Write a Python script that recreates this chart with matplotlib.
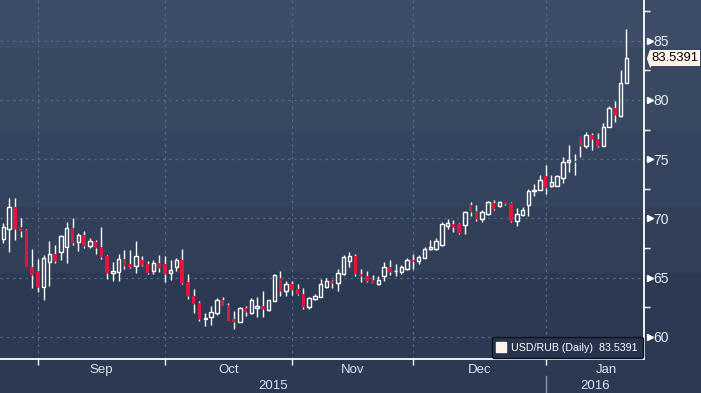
import matplotlib.pyplot as plt
import matplotlib.transforms as mtransforms
from matplotlib.lines import Line2D
from matplotlib.patches import Rectangle
import numpy as np
import pandas as pd

# daily USD/RUB candles, first session 24 Aug 2015
start_day = '2015-08-24'
opens = [68.22, 69.07, 70.93, 69.24, 69.0, 65.85, 65.54, 64.21, 66.33, 67.03,
         67.18, 67.54, 69.21, 68.02, 68.59, 67.68, 68.02, 67.54, 66.8, 65.4,
         65.48, 66.53, 66.18, 65.98, 66.46, 66.12, 65.56, 66.26, 66.12, 65.39,
         65.9, 66.46, 64.63, 63.43, 62.87, 61.46, 61.63, 62.02, 63.09, 62.67,
         61.46, 61.26, 62.39, 61.97, 62.44, 62.58, 62.3, 63.03, 65.0, 63.85,
         64.44, 63.99, 63.65, 62.52, 63.17, 63.37, 64.21, 64.72, 64.58, 65.28,
         66.41, 66.8, 65.34, 65.11, 64.77, 64.44, 65.11, 65.85, 65.51, 65.48,
         65.76, 66.46, 66.41, 66.66, 67.37, 67.39, 67.73, 69.33, 69.55, 69.55,
         69.47, 71.1, 70.59, 69.94, 70.37, 71.29, 71.01, 71.35, 71.29, 69.75,
         70.31, 71.15, 72.28, 72.36, 73.54, 72.7, 72.75, 73.4, 74.72, 74.86,
         76.85, 76.12, 77.05, 76.71, 76.07, 77.75, 79.3, 78.65, 81.4]
highs = [69.58, 71.69, 71.69, 70.0, 69.07, 67.37, 66.6, 66.89, 68.08, 67.74,
         68.59, 69.72, 70.0, 68.79, 68.93, 68.3, 68.16, 69.3, 66.9, 66.33,
         67.03, 67.3, 67.3, 68.06, 66.8, 66.38, 66.46, 66.88, 66.8, 66.46,
         66.69, 67.39, 65.28, 63.99, 63.0, 61.97, 62.58, 63.29, 63.37, 62.87,
         62.16, 62.53, 62.58, 63.23, 63.37, 63.87, 63.14, 65.28, 65.56, 64.69,
         64.69, 64.44, 64.13, 63.37, 63.65, 64.86, 64.92, 64.77, 65.68, 66.89,
         67.17, 66.97, 65.76, 65.54, 65.2, 65.11, 66.32, 66.46, 66.13, 66.04,
         66.61, 66.97, 66.89, 67.59, 68.21, 68.3, 69.7, 69.94, 69.89, 69.61,
         70.59, 71.35, 71.15, 70.73, 71.49, 71.57, 71.49, 71.4, 71.35, 70.87,
         70.93, 72.5, 72.92, 73.68, 74.47, 73.68, 73.62, 75.17, 76.21, 75.45,
         76.91, 77.28, 77.19, 77.19, 78.03, 79.49, 79.94, 82.53, 85.96]
lows = [67.94, 67.18, 68.16, 68.45, 65.85, 64.12, 63.79, 63.08, 64.27, 66.24,
        66.47, 66.24, 67.74, 67.23, 67.46, 67.46, 67.03, 66.6, 64.9, 64.72,
        64.72, 65.68, 65.84, 65.39, 65.96, 65.34, 65.34, 65.48, 64.63, 64.78,
        65.56, 64.49, 63.17, 61.97, 61.35, 60.9, 60.98, 61.83, 62.58, 61.35,
        60.65, 61.26, 61.74, 61.91, 61.68, 61.68, 62.18, 63.03, 63.42, 63.42,
        63.5, 63.5, 62.38, 62.38, 63.08, 63.37, 64.15, 64.15, 63.87, 65.2,
        65.9, 65.11, 64.63, 64.63, 64.49, 64.35, 64.72, 65.2, 65.11, 65.34,
        65.62, 65.76, 66.13, 66.61, 67.31, 67.31, 67.68, 69.13, 68.82, 68.71,
        68.71, 70.17, 69.75, 69.66, 70.31, 70.67, 70.96, 71.15, 69.69, 69.33,
        70.17, 70.17, 71.85, 72.36, 72.08, 72.64, 72.7, 72.98, 73.88, 73.65,
        75.14, 75.9, 75.79, 76.01, 76.07, 77.75, 78.17, 78.6, 81.4]
closes = [69.24, 70.93, 69.07, 68.95, 65.9, 65.2, 64.21, 66.67, 66.95, 66.38,
          68.5, 69.15, 67.88, 68.59, 67.66, 68.08, 67.46, 66.75, 65.4, 65.54,
          66.53, 65.96, 65.9, 66.8, 66.04, 65.39, 66.26, 65.84, 65.28, 65.67,
          66.46, 64.55, 63.46, 62.75, 61.46, 61.6, 62.1, 63.09, 62.61, 61.35,
          61.26, 62.39, 62.1, 63.09, 62.61, 62.35, 63.08, 65.2, 63.85, 64.44,
          63.93, 63.59, 62.52, 63.28, 63.42, 64.49, 64.69, 64.58, 65.42, 66.75,
          66.8, 65.34, 65.14, 64.69, 64.49, 64.77, 65.85, 65.45, 65.56, 65.85,
          66.46, 66.41, 66.75, 67.39, 67.59, 68.07, 69.5, 69.61, 69.27, 68.76,
          70.51, 70.51, 69.97, 70.51, 71.38, 70.79, 71.35, 71.24, 69.75, 70.37,
          70.73, 72.33, 72.42, 73.26, 72.56, 73.03, 73.54, 74.8, 74.89, 74.72,
          76.12, 77.05, 76.69, 76.07, 77.75, 79.3, 78.74, 81.4, 83.5391]
y_ticks = [60, 65, 70, 75, 80, 85]
series_name = 'USD/RUB (Daily)'

plt.rcParams['font.family'] = ['Liberation Sans', 'DejaVu Sans']

W, H = 701, 393
fig = plt.figure(figsize=(W / 100, H / 100), dpi=100)
fig.patch.set_facecolor('#2c3953')

# Bloomberg-ish banded background, top to bottom in pixels
bands = [(0, 48, '#3e4d67'), (48, 130, '#394861'), (130, 207, '#35445e'),
         (207, 273, '#313f59'), (273, H, '#2c3953')]
for top, bot, col in bands:
    fig.add_artist(Rectangle((0, 1 - bot / H), 1, (bot - top) / H,
                             transform=fig.transFigure, color=col, zorder=-10))

ax = fig.add_axes([0, 34 / H, 644 / W, 359 / H])
ax.set_facecolor('none')

o = np.array(opens)
h = np.array(highs)
l = np.array(lows)
c = np.array(closes)
n = len(c)
idx = np.arange(n)
dates = pd.bdate_range(start_day, periods=n)

up = c >= o
body_lo = np.minimum(o, c)
body_hi = np.maximum(o, c)
body_h = np.maximum(body_hi - body_lo, 0.07)

ax.vlines(idx, body_hi, h, color='white', lw=1, zorder=3)
ax.vlines(idx, l, body_lo, color='white', lw=1, zorder=3)
ax.bar(idx[up], body_h[up], bottom=body_lo[up], width=0.6,
       facecolor='none', edgecolor='white', lw=1, zorder=4)
ax.bar(idx[~up], body_h[~up], bottom=body_lo[~up], width=0.6,
       color='#e2153d', lw=0, zorder=4)

ax.set_xlim(-0.57, 111.04)
ax.set_ylim(58.12, 88.44)

# month starts -> ticks / grid
month_starts = [i for i in range(1, n) if dates[i].month != dates[i - 1].month]
ax.set_xticks(month_starts)
ax.set_xticklabels([])
ax.tick_params(axis='x', length=4, width=1, color='white', direction='out')

ax.yaxis.tick_right()
ax.set_yticks(y_ticks)
ax.set_yticks(np.arange(62.5, 90, 5), minor=True)
ax.tick_params(axis='y', which='major', length=0, pad=6.5,
               labelsize=10, labelcolor='#e8edf5')
ax.tick_params(axis='y', which='minor', length=4, width=1,
               color='white', direction='out')

for s in ['top', 'left']:
    ax.spines[s].set_visible(False)
for s in ['right', 'bottom']:
    ax.spines[s].set_color('white')
    ax.spines[s].set_linewidth(1.3)

ax.set_axisbelow(True)
ax.grid(True, which='major', color='#4f6a86', lw=0.9, ls=(0, (2, 3)))

trans_y = mtransforms.blended_transform_factory(ax.transAxes, ax.transData)
trans_x = mtransforms.blended_transform_factory(ax.transData, ax.transAxes)

# small arrows in front of the price labels
ax.plot([1 + 6 / 644] * len(y_ticks), y_ticks, ls='none', marker='>',
        ms=5, color='white', transform=trans_y, clip_on=False)

# month and year labels
jan_gap = pd.bdate_range(dates[month_starts[-1]], periods=31)
jan_len = sum(d.month == dates[month_starts[-1]].month for d in jan_gap)
edges = month_starts + [month_starts[-1] + jan_len]
for a, b in zip(edges[:-1], edges[1:]):
    ax.text((a + b) / 2, -0.031, dates[a].strftime('%b'), transform=trans_x,
            ha='center', va='center', fontsize=9.5, color='#dde3ee')

jan_i = month_starts[-1]
x0, x1 = ax.get_xlim()
ax.text((x0 + jan_i) / 2, -0.075, str(dates[0].year), transform=trans_x,
        ha='center', va='center', fontsize=9.5, color='#dde3ee')
ax.text((jan_i + x1) / 2, -0.075, str(dates[-1].year), transform=trans_x,
        ha='center', va='center', fontsize=9.5, color='#dde3ee')
ax.plot([jan_i, jan_i], [-0.047, -0.1], transform=trans_x, color='#8a96aa',
        lw=1, clip_on=False)

# last value tag
ax.plot([1 + 6 / 644], [c[-1]], ls='none',
        marker=[(-0.35, 0), (0, 1), (0, -1), (-0.35, 0)], ms=12,
        color='#fdf3ea', transform=trans_y, clip_on=False)
ax.annotate(f'{c[-1]:.4f}', xy=(1, c[-1]), xycoords=trans_y,
            xytext=(5.4, 0), textcoords='offset points', ha='left',
            va='center', fontsize=9.4, color='black', annotation_clip=False,
            bbox=dict(boxstyle='square,pad=0.15', fc='#fdf3ea', ec='none'))

handle = Line2D([], [], marker='s', ls='none', color='#fdf3ea', ms=7)
leg = ax.legend([handle], [f'{series_name}  {c[-1]:.4f}'], loc='lower right',
                frameon=True, fancybox=True, facecolor='#27334c',
                edgecolor='#0b1120', framealpha=1, fontsize=7.7,
                labelcolor='white', handlelength=0.8, handletextpad=0.5,
                borderaxespad=0.1, borderpad=0.5)
leg.get_frame().set_linewidth(1.0)

fig.savefig('out.png', dpi=100, facecolor=fig.get_facecolor())
